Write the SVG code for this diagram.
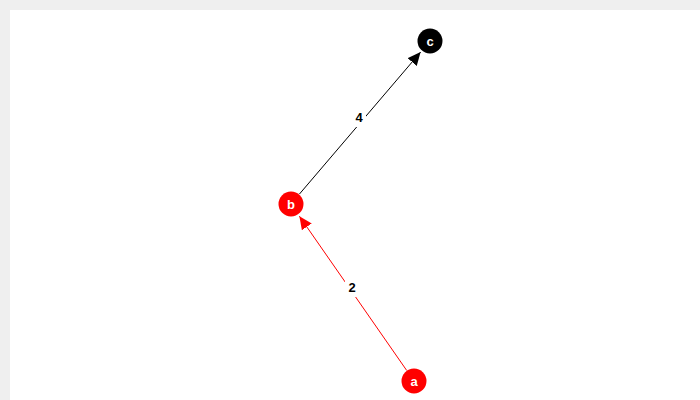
<svg xmlns="http://www.w3.org/2000/svg" width="700" height="400" viewBox="0 0 700 400">
<style>
.edge{fill:none;stroke-width:1}
.elabel{font-family:"Liberation Sans",Arial,sans-serif;font-size:13px;font-weight:bold;fill:#000;text-anchor:middle}
.nlabel{font-family:"Liberation Sans",Arial,sans-serif;font-size:13px;font-weight:bold;fill:#fff;text-anchor:middle}
.lbg{fill:#fff}
</style>
<defs>
<marker id="arrBlack" markerUnits="userSpaceOnUse" markerWidth="14" markerHeight="12" refX="13" refY="6" orient="auto">
<path d="M0,0 L13,6 L0,12 Z" fill="#000"/>
</marker>
<marker id="arrRed" markerUnits="userSpaceOnUse" markerWidth="14" markerHeight="12" refX="13" refY="6" orient="auto">
<path d="M0,0 L13,6 L0,12 Z" fill="#ff0000"/>
</marker>
</defs>
<rect x="0" y="0" width="700" height="400" fill="#efefef"/>
<rect x="10" y="10" width="690" height="390" fill="#fff"/>
<g id="connectors">
<path class="edge" d="M406.6,370.3 L299.4,216.2" stroke="#ff0000" marker-end="url(#arrRed)"/>
<rect class="lbg" x="345" y="279" width="14" height="18"/>
<text class="elabel" x="352" y="292">2</text>
<path class="edge" d="M299.4,194.1 L420.6,52.1" stroke="#000" marker-end="url(#arrBlack)"/>
<rect class="lbg" x="352" y="109" width="14" height="18"/>
<text class="elabel" x="359" y="122">4</text>
</g>
<g id="node-a">
<circle cx="414" cy="381" r="12.5" fill="#ff0000"/>
<text class="nlabel" x="414" y="386">a</text>
</g>
<g id="node-b">
<circle cx="291" cy="204" r="12.5" fill="#ff0000"/>
<text class="nlabel" x="291" y="209">b</text>
</g>
<g id="node-c">
<circle cx="430" cy="41" r="12.5" fill="#000"/>
<text class="nlabel" x="430" y="46">c</text>
</g>
</svg>
